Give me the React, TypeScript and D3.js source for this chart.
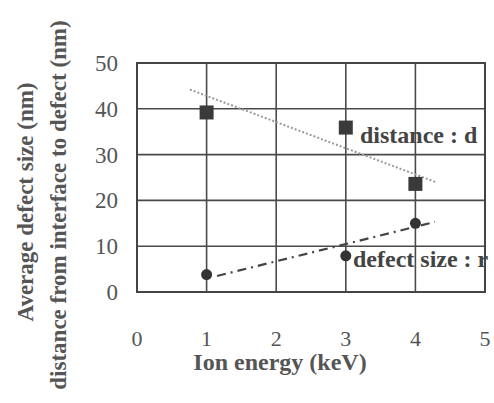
import React from "react";
import * as d3 from "d3";

// Ion energy (keV) at which samples were measured
const energies = [1, 3, 4];
// distance from interface to defect, d (nm)
const distanceValues = [39.2, 35.9, 23.6];
// average defect size, r (nm)
const defectSizeValues = [3.8, 7.9, 15];

// guide lines drawn through each series: [energy, nm] endpoints
const distanceTrend: [number, number][] = [[0.76, 44.2], [4.31, 23.9]];
const defectTrend: [number, number][] = [[1.15, 3.5], [4.28, 15.3]];

const xTicks = [0, 1, 2, 3, 4, 5];
const yTicks = [0, 10, 20, 30, 40, 50];

const W = 494;
const H = 403;
const left = 137;
const right = 485;
const top = 63;
const bottom = 292;

export default function App() {
  const x = d3.scaleLinear().domain([0, 5]).range([left, right]);
  const y = d3.scaleLinear().domain([0, 50]).range([bottom, top]);
  const line = d3
    .line<[number, number]>()
    .x((d) => x(d[0]))
    .y((d) => y(d[1]));

  const serif = "'Liberation Serif', 'Times New Roman', serif";
  const gridColor = "#4a4a4a";
  const textColor = "#555";

  return (
    <svg
      width={W}
      height={H}
      style={{ position: "fixed", left: 0, top: 0, background: "#fff" }}
    >
      <rect x={0} y={0} width={W} height={H} fill="#fff" />

      {/* grid */}
      {yTicks.slice(1, -1).map((t) => (
        <line key={"gy" + t} x1={left} x2={right} y1={y(t)} y2={y(t)} stroke={gridColor} strokeWidth={1.6} />
      ))}
      {xTicks.slice(1, -1).map((t) => (
        <line key={"gx" + t} x1={x(t)} x2={x(t)} y1={top} y2={bottom} stroke={gridColor} strokeWidth={1.6} />
      ))}
      <rect x={left} y={top} width={right - left} height={bottom - top} fill="none" stroke="#444" strokeWidth={2} />

      {/* trend lines */}
      <path d={line(distanceTrend) || ""} fill="none" stroke="#9a9a9a" strokeWidth={2} strokeDasharray="2 2" />
      <path d={line(defectTrend) || ""} fill="none" stroke="#444" strokeWidth={2.2} strokeDasharray="9 5 2 5" />

      {/* distance : d markers */}
      {energies.map((e, i) => (
        <rect key={"sq" + i} x={x(e) - 7} y={y(distanceValues[i]) - 7} width={14} height={14} fill="#3a3a3a" />
      ))}
      {/* defect size : r markers */}
      {energies.map((e, i) => (
        <circle key={"ci" + i} cx={x(e)} cy={y(defectSizeValues[i])} r={5.5} fill="#333" />
      ))}

      {/* series labels */}
      <text x={360} y={143} fontFamily={serif} fontWeight="bold" fontSize={24} fill="#444">
        distance : d
      </text>
      <text x={353} y={267} fontFamily={serif} fontWeight="bold" fontSize={24} fill="#444">
        defect size : r
      </text>

      {/* y tick labels */}
      {yTicks.map((t) => (
        <text key={"yt" + t} x={118} y={y(t) + 8} textAnchor="end" fontFamily={serif} fontSize={23} fill={textColor}>
          {t}
        </text>
      ))}
      {/* x tick labels */}
      {xTicks.map((t) => (
        <text key={"xt" + t} x={x(t)} y={346} textAnchor="middle" fontFamily={serif} fontSize={22} fill={textColor}>
          {t}
        </text>
      ))}

      {/* axis titles */}
      <text x={280} y={370} textAnchor="middle" fontFamily={serif} fontWeight="bold" fontSize={24} fill={textColor}>
        Ion energy (keV)
      </text>
      <text
        transform="translate(33,202) rotate(-90)"
        textAnchor="middle"
        fontFamily={serif}
        fontWeight="bold"
        fontSize={23}
        fill={textColor}
      >
        Average defect size (nm)
      </text>
      <text
        transform="translate(66,205) rotate(-90)"
        textAnchor="middle"
        fontFamily={serif}
        fontWeight="bold"
        fontSize={23}
        fill={textColor}
      >
        distance from interface to defect (nm)
      </text>
    </svg>
  );
}
